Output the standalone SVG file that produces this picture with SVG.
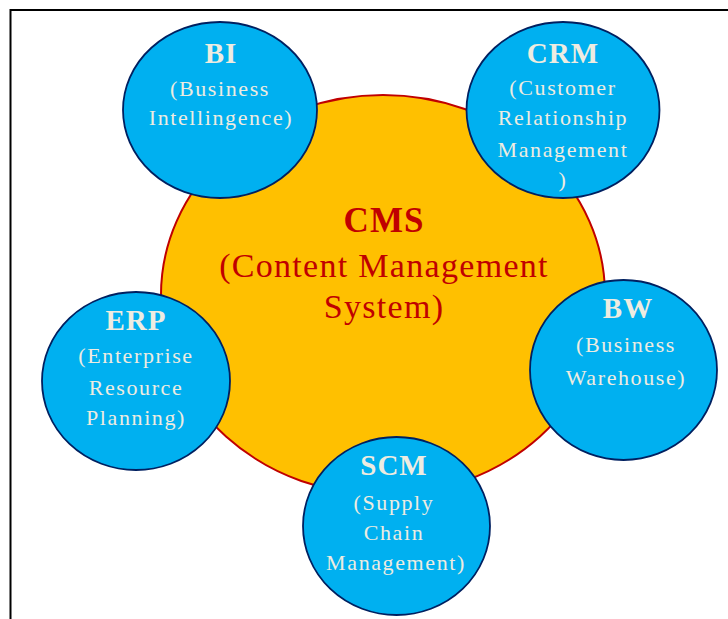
<svg xmlns="http://www.w3.org/2000/svg" width="728" height="619" viewBox="0 0 728 619">
  <style>
    .sat { fill: #00B0F0; stroke: #002060; stroke-width: 1.8; }
    .hub { fill: #FFC000; stroke: #C00000; stroke-width: 2; }
    .ttl { font-family: "Liberation Serif", "Times New Roman", serif; font-weight: bold; font-size: 29px; fill: #EEECE1; text-anchor: middle; letter-spacing: 1px; }
    .sub { font-family: "Liberation Serif", "Times New Roman", serif; font-size: 22px; fill: #EEECE1; text-anchor: middle; letter-spacing: 1.6px; }
    .hubT { font-family: "Liberation Serif", "Times New Roman", serif; font-weight: bold; font-size: 35px; fill: #C00000; text-anchor: middle; letter-spacing: 1px; }
    .hubS { font-family: "Liberation Serif", "Times New Roman", serif; font-size: 34px; fill: #C00000; text-anchor: middle; letter-spacing: 1.3px; }
  </style>
  <rect x="0" y="0" width="728" height="619" fill="#FFFFFF"/>
  <!-- outer frame -->
  <rect x="10.5" y="10" width="740" height="640" fill="none" stroke="#000000" stroke-width="2"/>

  <g id="cms">
    <ellipse class="hub" cx="383" cy="295" rx="222" ry="200"/>
    <text class="hubT" x="384" y="232">CMS</text>
    <text class="hubS" x="384" y="277">(Content Management</text>
    <text class="hubS" x="384" y="318">System)</text>
  </g>

  <g id="connectors"></g>

  <g id="bi">
    <ellipse class="sat" cx="220" cy="110" rx="97" ry="88"/>
    <text class="ttl" x="221" y="63">BI</text>
    <text class="sub" x="220" y="96">(Business</text>
    <text class="sub" x="221" y="125">Intellingence)</text>
  </g>

  <g id="crm">
    <ellipse class="sat" cx="563" cy="110" rx="96.5" ry="88"/>
    <text class="ttl" x="563" y="63">CRM</text>
    <text class="sub" x="563" y="95">(Customer</text>
    <text class="sub" x="563" y="125">Relationship</text>
    <text class="sub" x="563" y="157">Management</text>
    <text class="sub" x="563" y="187">)</text>
  </g>

  <g id="erp">
    <ellipse class="sat" cx="136" cy="381" rx="94" ry="89"/>
    <text class="ttl" x="136" y="330">ERP</text>
    <text class="sub" x="136" y="363">(Enterprise</text>
    <text class="sub" x="136" y="395">Resource</text>
    <text class="sub" x="136" y="425">Planning)</text>
  </g>

  <g id="bw">
    <ellipse class="sat" cx="623.5" cy="370" rx="93.5" ry="90"/>
    <text class="ttl" x="628" y="318">BW</text>
    <text class="sub" x="626" y="352">(Business</text>
    <text class="sub" x="626" y="385">Warehouse)</text>
  </g>

  <g id="scm">
    <ellipse class="sat" cx="396.5" cy="526" rx="93.5" ry="89"/>
    <text class="ttl" x="394" y="475">SCM</text>
    <text class="sub" x="394" y="510">(Supply</text>
    <text class="sub" x="394" y="540">Chain</text>
    <text class="sub" x="396" y="570">Management)</text>
  </g>
</svg>
